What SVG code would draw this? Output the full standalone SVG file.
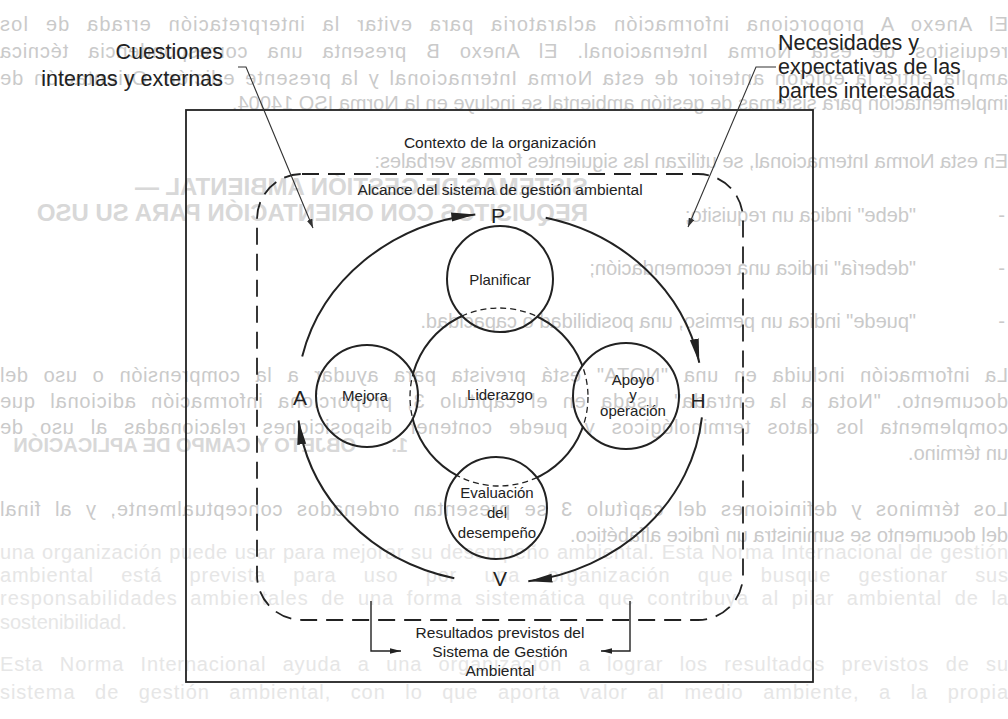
<svg xmlns="http://www.w3.org/2000/svg" width="1008" height="719" viewBox="0 0 1008 719">
<style>
.bg{font-family:"Liberation Sans",Arial,sans-serif;font-size:20px;fill:#cacaca}
.bgh{font-family:"Liberation Sans",Arial,sans-serif;font-size:24px;font-weight:bold;fill:#d8d8d8}
.bgl{font-family:"Liberation Sans",Arial,sans-serif;font-size:20px;fill:#e6e6e6}
.ln{fill:none;stroke:#222;stroke-width:2}
.nd{fill:none;stroke:#222;stroke-width:2}
.dash{fill:none;stroke:#222;stroke-width:1.3;stroke-dasharray:6 4}
.scope{fill:none;stroke:#222;stroke-width:1.8;stroke-dasharray:17 9}
.thin{fill:none;stroke:#333;stroke-width:1.1}
.br{fill:none;stroke:#222;stroke-width:1.4}
.t{font-family:"Liberation Sans",Arial,sans-serif;font-size:15px;fill:#222;text-anchor:middle}
.tm{font-family:"Liberation Sans",Arial,sans-serif;font-size:15.5px;fill:#222;text-anchor:middle}
.big{font-family:"Liberation Sans",Arial,sans-serif;font-size:21.5px;fill:#222}
.let{font-family:"Liberation Sans",Arial,sans-serif;font-size:21px;fill:#222;text-anchor:middle}
</style>
<defs>
<marker id="ah" markerUnits="userSpaceOnUse" markerWidth="26" markerHeight="10" refX="24" refY="5" orient="auto"><path d="M0,0.5 L24,5 L0,9.5 z" fill="#222"/></marker>
<marker id="sa" markerUnits="userSpaceOnUse" markerWidth="10" markerHeight="6" refX="9" refY="3" orient="auto"><path d="M0,0 L9,3 L0,6 z" fill="#333"/></marker>
<marker id="ba" markerUnits="userSpaceOnUse" markerWidth="12" markerHeight="6" refX="11" refY="3" orient="auto"><path d="M0,0.3 L11,3 L0,5.7 z" fill="#222"/></marker>
<mask id="mL">
<rect x="0" y="0" width="1008" height="719" fill="white"/>
<circle cx="500" cy="279" r="53" fill="black"/>
<circle cx="367" cy="396" r="51" fill="black"/>
<circle cx="626" cy="396" r="53" fill="black"/>
<circle cx="496" cy="508" r="51" fill="black"/>
</mask>
<clipPath id="cS">
<circle cx="500" cy="279" r="53"/>
<circle cx="367" cy="396" r="51"/>
<circle cx="626" cy="396" r="53"/>
<circle cx="496" cy="508" r="51"/>
</clipPath>
</defs>
<rect x="0" y="0" width="1008" height="719" fill="#ffffff"/>

<!-- faint mirrored bleed-through text from the back of the page -->
<g id="bleed-through" transform="matrix(-1 0 0 1 1008 0)">
<text class="bg" x="0" y="31" word-spacing="10" textLength="1008" lengthAdjust="spacing">El Anexo A proporciona información aclaratoria para evitar la interpretación errada de los</text>
<text class="bg" x="0" y="58" word-spacing="13" textLength="1008" lengthAdjust="spacing">requisitos de esta Norma Internacional. El Anexo B presenta una correspondencia técnica</text>
<text class="bg" x="0" y="85" word-spacing="3" textLength="1008" lengthAdjust="spacing">amplia entre la edición anterior de esta Norma Internacional y la presente edición. Orientación de</text>
<text class="bg" x="0" y="110">implementación para sistemas de gestión ambiental se incluye en la Norma ISO 14004.</text>
<text class="bg" x="0" y="168">En esta Norma Internacional, se utilizan las siguientes formas verbales:</text>
<text class="bgh" x="420" y="195">SISTEMAS DE GESTIÓN AMBIENTAL —</text>
<text class="bgh" x="420" y="221">REQUISITOS CON ORIENTACIÓN PARA SU USO</text>
<text class="bg" x="3" y="222">-</text>
<text class="bg" x="92" y="222">"debe" indica un requisito;</text>
<text class="bg" x="3" y="275">-</text>
<text class="bg" x="92" y="275">"debería" indica una recomendación;</text>
<text class="bg" x="3" y="328">-</text>
<text class="bg" x="92" y="328">"puede" indica un permiso, una posibilidad o capacidad.</text>
<text class="bg" x="0" y="382" word-spacing="9" textLength="1008" lengthAdjust="spacing">La información incluida en una "NOTA" está prevista para ayudar a la comprensión o uso del</text>
<text class="bg" x="0" y="408" word-spacing="8" textLength="1008" lengthAdjust="spacing">documento. "Nota a la entrada" usada en el capítulo 3, proporciona información adicional que</text>
<text class="bg" x="0" y="434" word-spacing="10" textLength="1008" lengthAdjust="spacing">complementa los datos terminológicos y puede contener disposiciones relacionadas al uso de</text>
<text class="bgh" x="600" y="452" style="font-size:20px">1.</text>
<text class="bgh" x="652" y="452" style="font-size:20px">OBJETO Y CAMPO DE APLICACIÓN</text>
<text class="bg" x="0" y="460">un término.</text>
<text class="bg" x="0" y="516" word-spacing="7" textLength="1008" lengthAdjust="spacing">Los términos y definiciones del capítulo 3 se presentan ordenados conceptualmente, y al final</text>
<text class="bg" x="0" y="542">del documento se suministra un índice alfabético.</text>
</g>
<g id="faint-text">
<text class="bgl" x="0" y="559" word-spacing="1" textLength="1008" lengthAdjust="spacing">una organización puede usar para mejorar su desempeño ambiental. Esta Norma Internacional de gestión</text>
<text class="bgl" x="0" y="582" word-spacing="21" textLength="1008" lengthAdjust="spacing">ambiental está prevista para uso por una organización que busque gestionar sus</text>
<text class="bgl" x="0" y="605" word-spacing="6" textLength="1008" lengthAdjust="spacing">responsabilidades ambientales de una forma sistemática que contribuya al pilar ambiental de la</text>
<text class="bgl" x="0" y="629">sostenibilidad.</text>
<text class="bgl" x="0" y="671" word-spacing="10" textLength="1008" lengthAdjust="spacing">Esta Norma Internacional ayuda a una organización a lograr los resultados previstos de su</text>
<text class="bgl" x="0" y="699" word-spacing="13" textLength="1008" lengthAdjust="spacing">sistema de gestión ambiental, con lo que aporta valor al medio ambiente, a la propia</text>
</g>

<!-- context box -->
<g id="contexto">
<rect x="186" y="110" width="627" height="572" fill="none" stroke="#222" stroke-width="1.8"/>
<text class="tm" x="500" y="148">Contexto de la organización</text>
</g>
<g id="alcance">
<rect class="scope" x="257" y="174" width="486" height="446" rx="45" ry="45"/>
<text class="tm" x="500" y="195">Alcance del sistema de gestión ambiental</text>
</g>

<!-- callouts -->
<g id="cuestiones">
<text class="big" x="223" y="59" text-anchor="end">Cuestiones</text>
<text class="big" x="223" y="86" text-anchor="end">internas y externas</text>
</g>
<g id="necesidades">
<text class="big" x="778" y="50">Necesidades y</text>
<text class="big" x="778" y="74">expectativas de las</text>
<text class="big" x="778" y="98">partes interesadas</text>
</g>

<!-- inner nodes -->
<g id="liderazgo">
<circle class="nd" cx="499" cy="397" r="89" mask="url(#mL)"/>
<circle class="dash" cx="499" cy="397" r="89" clip-path="url(#cS)"/>
<text class="t" x="500" y="400">Liderazgo</text>
</g>
<g id="planificar">
<circle class="nd" cx="500" cy="279" r="53"/>
<text class="t" x="500" y="285">Planificar</text>
</g>
<g id="mejora">
<circle class="nd" cx="367" cy="396" r="51"/>
<text class="t" x="365" y="401">Mejora</text>
</g>
<g id="apoyo">
<circle class="nd" cx="626" cy="396" r="53"/>
<text class="t" x="633" y="385">Apoyo</text>
<text class="t" x="633" y="400">y</text>
<text class="t" x="633" y="416">operación</text>
</g>
<g id="evaluacion">
<circle class="nd" cx="496" cy="508" r="51"/>
<text class="t" x="497" y="498">Evaluación</text>
<text class="t" x="497" y="518">del</text>
<text class="t" x="497" y="538">desempeño</text>
</g>

<!-- PHVA letters -->
<g id="phva-labels">
<text class="let" x="498" y="223">P</text>
<text class="let" x="698" y="408">H</text>
<text class="let" x="500" y="586">V</text>
<text class="let" x="300" y="405">A</text>
</g>

<g id="resultados">
<text class="tm" x="500" y="638">Resultados previstos del</text>
<text class="tm" x="500" y="657">Sistema de Gestión</text>
<text class="tm" x="500" y="676">Ambiental</text>
</g>

<!-- connectors -->
<g id="connectors">
<path class="ln" d="M302.2,356.4 A203,185 0 0 1 475.3,214.4" marker-end="url(#ah)"/>
<path class="ln" d="M545.7,217.7 A203,185 0 0 1 699.3,362.7" marker-end="url(#ah)"/>
<path class="ln" d="M701.9,417.3 A203,185 0 0 1 528.3,581.2" marker-end="url(#ah)"/>
<path class="ln" d="M454.3,578.3 A203,185 0 0 1 298.5,420.5" marker-end="url(#ah)"/>
<path class="thin" d="M238,67 L246,67 L313,228" marker-end="url(#sa)"/>
<path class="thin" d="M776,67 L756,67 L688,227" marker-end="url(#sa)"/>
<path class="br" d="M371,601 L371,651 L401,651" marker-end="url(#ba)"/>
<path class="br" d="M630,601 L630,651 L601,651" marker-end="url(#ba)"/>
</g>
</svg>
